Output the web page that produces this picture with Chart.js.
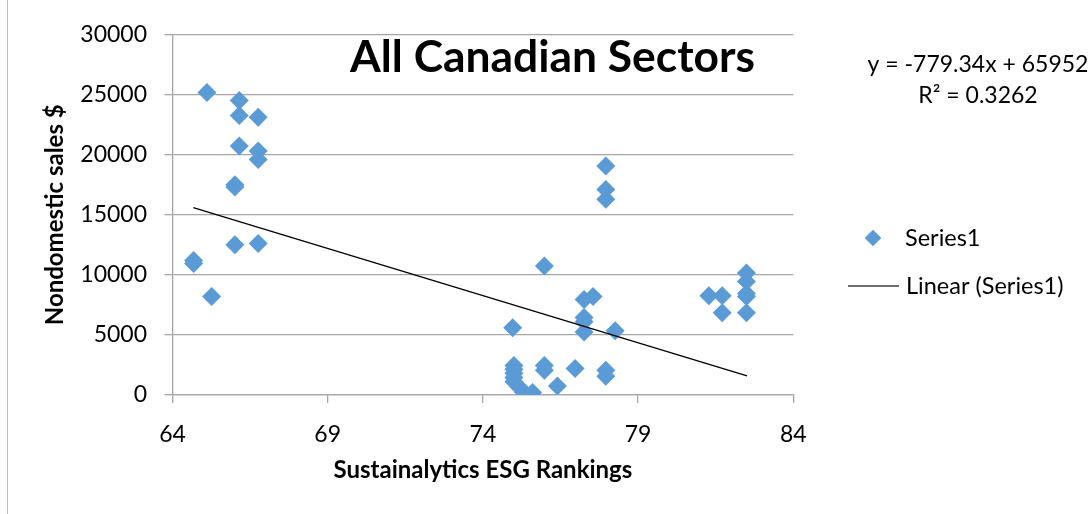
<!DOCTYPE html>
<html>
<head>
<meta charset="utf-8">
<script src="https://cdn.jsdelivr.net/npm/chart.js@4"></script>
<style>
  body { margin: 0; background: #fff; }
  canvas { display: block; }
</style>
</head>
<body>
<canvas id="myChart" width="1088" height="514"></canvas>
<script>
// ESG ranking (x) and nondomestic sales (y) for each company
const esgRankings = [
  65.11, 66.15, 66.15, 66.76, 66.15, 66.76, 66.76, 66.01, 66.01, 66.01, 66.76, 64.68, 64.68, 65.26,
  75.98, 74.96, 75.0, 75.0, 75.0, 75.0, 75.0, 75.15, 75.3, 75.6, 75.98, 75.98, 76.4, 76.97,
  77.96, 77.96, 78.26, 77.26, 77.55, 77.26, 77.26, 77.26, 77.96, 77.96, 77.96,
  81.28, 81.71, 81.71, 82.49, 82.49, 82.49, 82.49, 82.49
];
const nondomesticSales = [
  25170, 24500, 23250, 23120, 20730, 20300, 19600, 17500, 17300, 12500, 12600, 11200, 10950, 8200,
  10740, 5600, 2450, 2150, 1800, 1450, 1100, 700, 250, 200, 2450, 2050, 750, 2200,
  2050, 1550, 5350, 7950, 8200, 6450, 6100, 5250, 19050, 17100, 16300,
  8250, 8250, 6850, 10150, 9450, 8450, 8200, 6850
];
// linear trendline end points as drawn
const trendX = [64.67, 82.51];
const trendY = [15590, 1600];

const xTicks = [64, 69, 74, 79, 84];
const yTicks = [0, 5000, 10000, 15000, 20000, 25000, 30000];

const chartTitle = 'All Canadian Sectors';
const equationLines = ['y = -779.34x + 65952', 'R\u00b2 = 0.3262'];
const seriesName = 'Series1';
const trendName = 'Linear (Series1)';

const blue = '#5b9bd5';
const gridColor = '#a6a6a6';

Chart.defaults.font.family = 'Lato';
Chart.defaults.color = '#000';

const points = esgRankings.map((x, i) => ({x: x, y: nondomesticSales[i]}));
const trend = trendX.map((x, i) => ({x: x, y: trendY[i]}));

const extrasPlugin = {
  id: 'extras',
  beforeDraw(chart) {
    const ctx = chart.ctx;
    ctx.save();
    ctx.strokeStyle = '#bfbfbf';
    ctx.lineWidth = 1;
    ctx.beginPath();
    ctx.moveTo(7.5, 0);
    ctx.lineTo(7.5, chart.height);
    ctx.stroke();
    ctx.restore();
  },
  afterDraw(chart) {
    const ctx = chart.ctx;
    ctx.save();
    ctx.fillStyle = '#000';

    // title, fitted to its width in the picture
    ctx.font = 'bold 100px Lato';
    const size = 100 * 405 / ctx.measureText(chartTitle).width;
    ctx.font = 'bold ' + size + 'px Lato';
    ctx.textAlign = 'center';
    ctx.textBaseline = 'alphabetic';
    ctx.fillText(chartTitle, 552.5, 72);

    ctx.font = '23px Lato';
    ctx.fillText(equationLines[0], 978, 71.5);
    ctx.fillText(equationLines[1], 978, 102.5);

    // legend
    ctx.fillStyle = blue;
    ctx.beginPath();
    ctx.moveTo(873, 229.7);
    ctx.lineTo(881.3, 238);
    ctx.lineTo(873, 246.3);
    ctx.lineTo(864.7, 238);
    ctx.closePath();
    ctx.fill();
    ctx.strokeStyle = '#404040';
    ctx.lineWidth = 1.5;
    ctx.beginPath();
    ctx.moveTo(848, 286);
    ctx.lineTo(899, 286);
    ctx.stroke();

    ctx.fillStyle = '#000';
    ctx.textAlign = 'left';
    ctx.textBaseline = 'middle';
    ctx.font = '23.5px Lato';
    ctx.fillText(seriesName, 905, 238);
    ctx.fillText(trendName, 906, 286);
    ctx.restore();
  }
};

new Chart(document.getElementById('myChart'), {
  type: 'scatter',
  data: {
    datasets: [
      {
        label: trendName,
        type: 'line',
        data: trend,
        borderColor: '#000',
        borderWidth: 1.3,
        pointRadius: 0,
        fill: false
      },
      {
        label: seriesName,
        data: points,
        pointStyle: 'rectRot',
        pointRadius: 9.5,
        pointHoverRadius: 9.5,
        backgroundColor: blue,
        borderWidth: 0
      }
    ]
  },
  options: {
    responsive: false,
    animation: false,
    layout: {
      padding: {left: 0, top: 34.5, right: 294.7, bottom: 0}
    },
    plugins: {
      legend: {display: false},
      tooltip: {enabled: false}
    },
    scales: {
      x: {
        type: 'linear',
        min: xTicks[0],
        max: xTicks[xTicks.length - 1],
        afterFit: s => { s.height = 119; },
        afterBuildTicks: s => { s.ticks = xTicks.map(v => ({value: v})); },
        ticks: {
          padding: 18,
          font: {size: 23},
          callback: v => String(v)
        },
        grid: {
          drawOnChartArea: false,
          drawTicks: true,
          tickLength: 8,
          color: gridColor,
          lineWidth: 1.3
        },
        border: {color: gridColor, width: 1.3},
        title: {
          display: true,
          text: 'Sustainalytics ESG Rankings',
          font: {size: 24, weight: 'bold'},
          padding: {top: 0, bottom: 29}
        }
      },
      y: {
        min: yTicks[0],
        max: yTicks[yTicks.length - 1],
        afterFit: s => { s.width = 172.5; },
        afterBuildTicks: s => { s.ticks = yTicks.map(v => ({value: v})); },
        ticks: {
          padding: 17.5,
          font: {size: 23},
          callback: v => String(v)
        },
        grid: {
          color: gridColor,
          tickLength: 8,
          lineWidth: 1.3
        },
        border: {color: gridColor, width: 1.3},
        title: {
          display: true,
          text: 'Nondomestic sales $',
          font: {size: 24, weight: 'bold'},
          padding: {top: 40.5, bottom: 0}
        }
      }
    }
  },
  plugins: [extrasPlugin]
});
</script>
</body>
</html>
